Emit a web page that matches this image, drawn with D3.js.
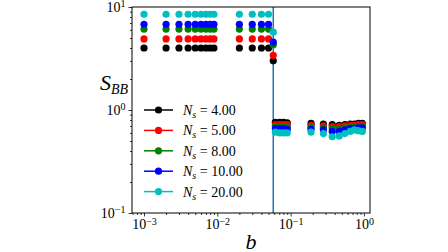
<!DOCTYPE html>
<html>
<head>
<meta charset="utf-8">
<script src="https://cdn.jsdelivr.net/npm/d3@7/dist/d3.min.js"></script>
<style>
  body { margin: 0; background: #fff; }
  svg { display: block; }
  text { font-family: "Liberation Serif", "DejaVu Serif", serif; }
</style>
</head>
<body>
<svg id="chart" width="448" height="252"></svg>
<script>
// series labels and colours
var seriesNames = ['4.00', '5.00', '8.00', '10.00', '20.00'];
var seriesColors = ['#000000', '#ff0000', '#008000', '#0000ff', '#00bfbf'];

// b values, left of the transition
var leftB = [0.001, 0.002, 0.003, 0.004, 0.005, 0.006, 0.007, 0.008, 0.009, 0.02, 0.03, 0.04, 0.05];
// S_BB plateau per series (left side)
var leftS = [4.0, 4.9, 6.1, 6.8, 8.5];

// points sitting on the transition line
var edgeB = 0.058;
var edgeS = [3.0, 3.4, 4.3, 4.55, 5.7];

// b values, right of the transition
var rightB = [0.062, 0.071, 0.08, 0.09, 0.19, 0.28, 0.37, 0.46, 0.55, 0.65, 0.74, 0.84, 0.95];
var rightS = [
  [0.76, 0.76, 0.76, 0.75, 0.74, 0.73, 0.72, 0.71, 0.72, 0.73, 0.73, 0.74, 0.74],
  [0.72, 0.72, 0.72, 0.72, 0.71, 0.70, 0.69, 0.69, 0.70, 0.71, 0.71, 0.72, 0.72],
  [0.69, 0.69, 0.69, 0.68, 0.68, 0.67, 0.66, 0.66, 0.67, 0.68, 0.68, 0.69, 0.69],
  [0.66, 0.66, 0.66, 0.65, 0.65, 0.64, 0.62, 0.62, 0.64, 0.66, 0.66, 0.67, 0.67],
  [0.61, 0.60, 0.60, 0.60, 0.61, 0.59, 0.55, 0.56, 0.59, 0.62, 0.64, 0.63, 0.62]
];

var transitionB = 0.058;

var xMajor = [1e-3, 1e-2, 1e-1, 1e0];
var yMajor = [1e-1, 1e0, 1e1];

var pl = 132, pr = 370, pt = 7, pb = 213;

var svg = d3.select('#chart');

var x = d3.scaleLog()
  .domain([Math.pow(10, -3.1637), Math.pow(10, 0.0832)])
  .range([pl, pr]);
var y = d3.scaleLog()
  .domain([0.1, 10])
  .range([pb, pt]);

function minorTicks(scale) {
  var d = scale.domain(), out = [];
  for (var e = -4; e <= 1; e++) {
    for (var k = 2; k <= 9; k++) {
      var v = k * Math.pow(10, e);
      if (v >= d[0] && v <= d[1]) out.push(v);
    }
  }
  return out;
}

function powLabel(sel) {
  sel.each(function(d) {
    var t = d3.select(this).text('');
    var e = Math.round(Math.log10(d));
    t.append('tspan').text('10');
    t.append('tspan').attr('dy', '-0.45em').attr('font-size', '10px')
      .text(e < 0 ? '\u2212' + (-e) : e);
  });
}

// minor ticks
svg.append('g')
  .attr('transform', 'translate(0,' + pb + ')')
  .call(d3.axisBottom(x).tickValues(minorTicks(x)).tickSize(2).tickFormat(''))
  .call(function(g) { g.select('.domain').remove(); });
svg.append('g')
  .attr('transform', 'translate(' + pl + ',0)')
  .call(d3.axisLeft(y).tickValues(minorTicks(y)).tickSize(2).tickFormat(''))
  .call(function(g) { g.select('.domain').remove(); });

// major ticks
var xAxis = svg.append('g')
  .attr('transform', 'translate(0,' + pb + ')')
  .call(d3.axisBottom(x).tickValues(xMajor).tickSize(3.5).tickPadding(3));
xAxis.select('.domain').remove();
xAxis.selectAll('text').attr('font-size', '14px').attr('fill', '#000').call(powLabel);

var yAxis = svg.append('g')
  .attr('transform', 'translate(' + pl + ',0)')
  .call(d3.axisLeft(y).tickValues(yMajor).tickSize(3.5).tickPadding(3));
yAxis.select('.domain').remove();
yAxis.selectAll('text').attr('font-size', '14px').attr('fill', '#000').call(powLabel);

svg.selectAll('.tick line').attr('stroke', '#000').attr('stroke-width', 0.8);

// transition line
svg.append('line')
  .attr('x1', x(transitionB)).attr('x2', x(transitionB))
  .attr('y1', pt).attr('y2', pb)
  .attr('stroke', '#1f77b4').attr('stroke-width', 1.5);

// points
seriesNames.forEach(function(name, i) {
  var pts = leftB.map(function(b) { return [b, leftS[i]]; })
    .concat([[edgeB, edgeS[i]]])
    .concat(rightB.map(function(b, j) { return [b, rightS[i][j]]; }));
  svg.append('g').selectAll('circle')
    .data(pts)
    .enter().append('circle')
    .attr('cx', function(d) { return x(d[0]); })
    .attr('cy', function(d) { return y(d[1]); })
    .attr('r', 3.6)
    .attr('fill', seriesColors[i]);
});

// frame
svg.append('rect')
  .attr('x', pl).attr('y', pt)
  .attr('width', pr - pl).attr('height', pb - pt)
  .attr('fill', 'none').attr('stroke', '#000').attr('stroke-width', 1);

// legend
var legend = svg.append('g').selectAll('g')
  .data(seriesNames)
  .enter().append('g')
  .attr('transform', function(d, i) { return 'translate(144,' + (110 + i * 20.4) + ')'; });
legend.append('line')
  .attr('x1', 0).attr('x2', 29)
  .attr('stroke', function(d, i) { return seriesColors[i]; })
  .attr('stroke-width', 1.5);
legend.append('circle')
  .attr('cx', 14.5).attr('r', 3.6)
  .attr('fill', function(d, i) { return seriesColors[i]; });
var lt = legend.append('text')
  .attr('x', 39).attr('y', 5)
  .attr('font-size', '14px');
lt.append('tspan').attr('font-style', 'italic').text('N');
lt.append('tspan').attr('font-style', 'italic').attr('font-size', '10px').attr('dy', 3).text('s');
lt.append('tspan').attr('dy', -3).text(' = ');
lt.append('tspan').text(function(d) { return d; });

// axis labels
var yl = svg.append('text')
  .attr('x', 100).attr('y', 90)
  .attr('font-size', '22px').attr('font-style', 'italic');
yl.append('tspan').text('S');
yl.append('tspan').attr('font-size', '14px').attr('dy', 4).text('BB');

svg.append('text')
  .attr('x', (pl + pr) / 2).attr('y', 249)
  .attr('text-anchor', 'middle')
  .attr('font-size', '22px').attr('font-style', 'italic')
  .text('b');
</script>
</body>
</html>
